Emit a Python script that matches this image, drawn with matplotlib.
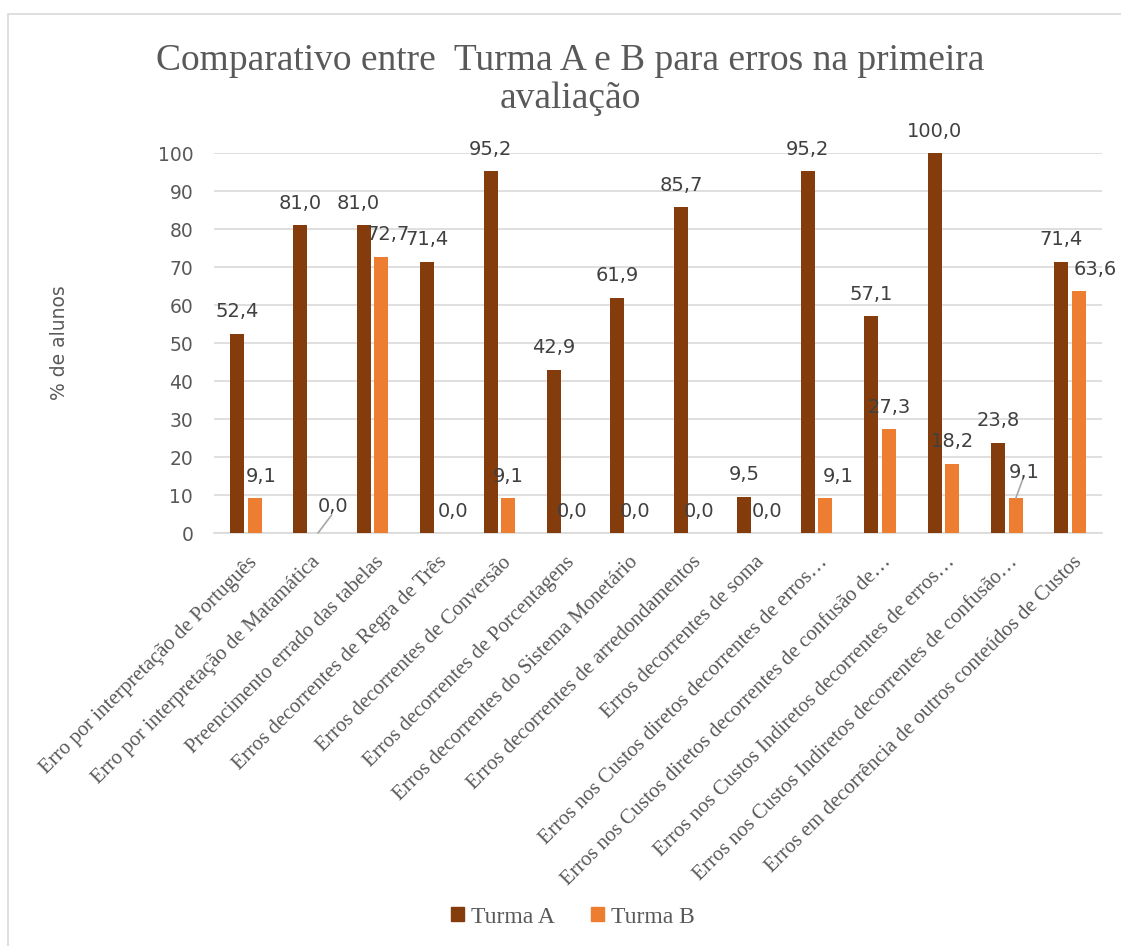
import numpy as np
import matplotlib
matplotlib.use("Agg")
import matplotlib.pyplot as plt
from matplotlib.patches import Rectangle, Patch
from matplotlib.transforms import ScaledTranslation

# data
categorias = [
    "Erro por interpretação de Português",
    "Erro por interpretação de Matamática",
    "Preencimento errado das tabelas",
    "Erros decorrentes de Regra de Três",
    "Erros decorrentes de Conversão",
    "Erros decorrentes de Porcentagens",
    "Erros decorrentes do Sistema Monetário",
    "Erros decorrentes de arredondamentos",
    "Erros decorrentes de soma",
    "Erros nos Custos diretos decorrentes de erros…",
    "Erros nos Custos diretos decorrentes de confusão de…",
    "Erros nos Custos Indiretos decorrentes de erros…",
    "Erros nos Custos Indiretos decorrentes de confusão…",
    "Erros em decorrência de outros conteúdos de Custos",
]
turma_a = [52.4, 81.0, 81.0, 71.4, 95.2, 42.9, 61.9, 85.7, 9.5, 95.2, 57.1, 100.0, 23.8, 71.4]
turma_b = [9.1, 0.0, 72.7, 0.0, 9.1, 0.0, 0.0, 0.0, 0.0, 9.1, 27.3, 18.2, 9.1, 63.6]
series = ["Turma A", "Turma B"]

cor_a = "#843C0C"
cor_b = "#ED7D31"
cinza = "#595959"
grade = "#D9D9D9"

# label nudges in pixels (Excel moved a few labels sideways)
nudge_a = {2: -6}
nudge_b = {0: 7, 1: 15, 2: 7, 3: 8, 8: 5, 9: 13, 12: 8, 13: 16}
leader_b = [1, 12]

W, H = 1121, 946
fig = plt.figure(figsize=(W / 100, H / 100), dpi=100)
fig.patches.append(Rectangle((8 / W, -0.2), 1.2, 1.2 - 14 / H, transform=fig.transFigure,
                             fill=False, edgecolor=grade, lw=1.2))

ax = fig.add_axes([214 / W, 1 - 533 / H, (1102 - 214) / W, (533 - 153) / H])
x = np.arange(len(categorias))
w = 0.22
off = 0.14
ax.bar(x - off, turma_a, w, color=cor_a, zorder=3)
ax.bar(x + off, turma_b, w, color=cor_b, zorder=3)

ax.set_xlim(-0.5, len(categorias) - 0.5)
ax.set_ylim(0, 100)
ax.set_yticks(range(0, 101, 10))
ax.yaxis.grid(True, color=grade, lw=1.2, zorder=0)
for s in ["top", "right", "left"]:
    ax.spines[s].set_visible(False)
ax.spines["bottom"].set_color(grade)
ax.spines["bottom"].set_linewidth(1.2)
ax.tick_params(length=0)
ax.tick_params(axis="y", labelsize=13.5, labelcolor=cinza, pad=15)
ax.set_xticks(x)
ax.set_xticklabels(categorias, rotation=45, ha="right", rotation_mode="anchor",
                   family="Liberation Serif", fontsize=15, color=cinza)
for lbl in ax.get_xticklabels():
    lbl.set_transform(lbl.get_transform() + ScaledTranslation(2 / 100, -15 / 100, fig.dpi_scale_trans))

ax.set_ylabel("% de alunos", fontsize=13.5, color=cinza)
ax.yaxis.set_label_coords(-(214 - 69) / (1102 - 214), 0.5)

def fmt(v):
    return f"{v:.1f}".replace(".", ",")

px = 0.72  # pixels -> points
for i, v in enumerate(turma_a):
    ax.annotate(fmt(v), (x[i] - off, v), xytext=(nudge_a.get(i, 0) * px, 9),
                textcoords="offset points", ha="center", va="bottom",
                fontsize=14, color="#404040")
for i, v in enumerate(turma_b):
    dx = nudge_b.get(i, 0) * px
    dy = 9 + (3 if i in leader_b else 0)
    ax.annotate(fmt(v), (x[i] + off, v), xytext=(dx, dy),
                textcoords="offset points", ha="center", va="bottom",
                fontsize=14, color="#404040")
    if i in leader_b:
        ax.annotate("", (x[i] + off, v), xytext=(dx - 1, dy + 1), textcoords="offset points",
                    arrowprops=dict(arrowstyle="-", color="#A6A6A6", lw=1.2,
                                    shrinkA=0, shrinkB=0))

fig.text(570 / W, 1 - 80 / H, "Comparativo entre  Turma A e B para erros na primeira\navaliação",
         ha="center", va="center", family="Liberation Serif", fontsize=27,
         color=cinza, linespacing=1.15)

handles = [Patch(color=cor_a), Patch(color=cor_b)]
fig.legend(handles, series, loc="center", bbox_to_anchor=(573 / W, 1 - 917 / H), ncol=2,
           frameon=False, prop={"family": "Liberation Serif", "size": 17},
           handlelength=0.55, handleheight=0.55, handletextpad=0.3, columnspacing=1.5,
           labelcolor=cinza)

fig.savefig("out.png", dpi=100)
